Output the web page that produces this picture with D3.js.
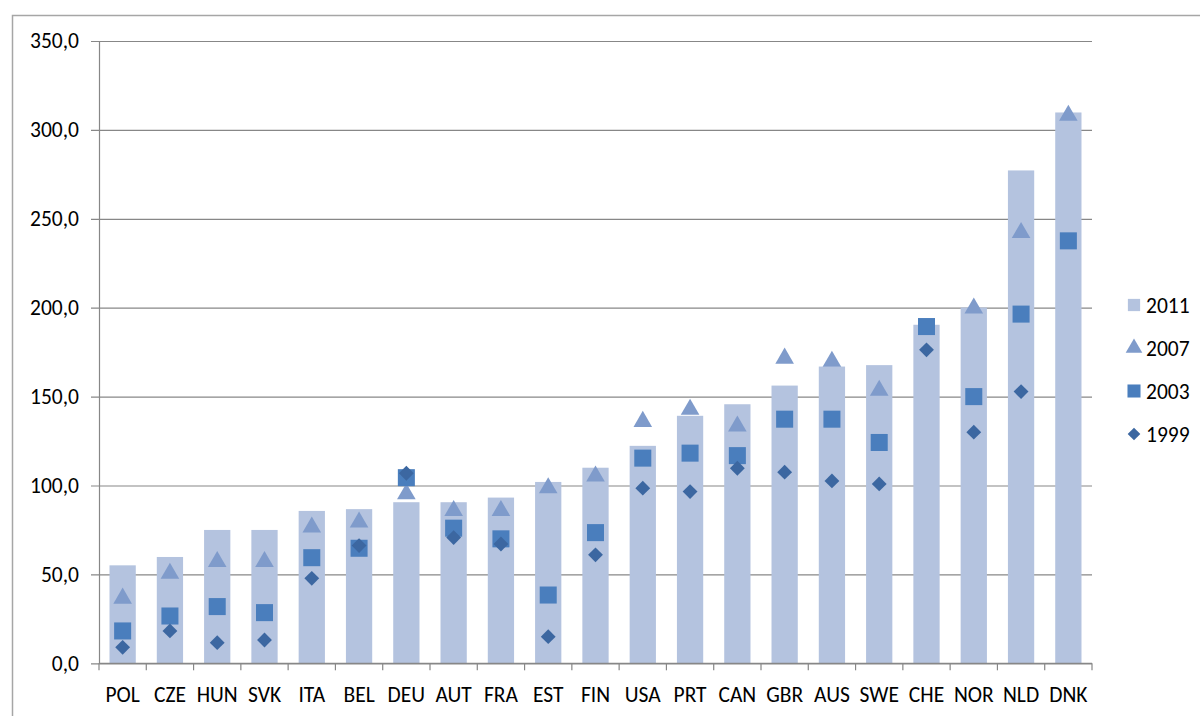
<!DOCTYPE html>
<html>
<head>
<meta charset="utf-8">
<script src="https://cdn.jsdelivr.net/npm/d3@7"></script>
<style>
  html, body { margin: 0; padding: 0; background: #fff; }
  svg { display: block; }
  text { font-family: Carlito, Lato, "Liberation Sans", sans-serif; fill: #000; }
</style>
</head>
<body>
<svg id="chart" width="1200" height="716"></svg>
<script>
// Countries, ordered by 2011 value
const countries = ["POL","CZE","HUN","SVK","ITA","BEL","DEU","AUT","FRA","EST","FIN",
                   "USA","PRT","CAN","GBR","AUS","SWE","CHE","NOR","NLD","DNK"];

// Series values (null = no observation)
const values2011 = [55.1, 59.8, 75.0, 75.0, 85.7, 86.7, 90.6, 90.6, 93.2, 102.0, 110.0,
                    122.3, 139.2, 145.7, 156.2, 166.9, 167.7, 190.4, 200.1, 277.2, 309.8];
const values2007 = [36.0, 50.0, 56.6, 56.6, 76.0, 78.8, 94.7, 85.3, 85.3, 98.1, 104.7,
                    135.4, 142.2, 132.8, 171.0, 169.2, 152.9, null, 199.2, 241.6, 307.6];
const values2003 = [18.2, 26.6, 31.9, 28.5, 59.4, 64.7, 104.4, 76.0, 70.0, 38.4, 73.5,
                    115.4, 118.2, 116.8, 137.3, 137.3, 124.2, 189.4, 150.0, 196.4, 237.6];
const values1999 = [9.0, 18.2, 11.6, 13.1, 47.8, 66.2, 106.9, 70.7, 67.1, 15.0, 61.0,
                    98.5, 96.6, 109.7, 107.5, 102.6, 100.9, 176.3, 130.0, 152.8, null];

// Axis ticks
const yTicks = [0, 50, 100, 150, 200, 250, 300, 350];

const svg = d3.select("#chart");

const plot = { left: 99, right: 1092, top: 41, bottom: 663.3 };
const FONT = "Carlito, Lato, 'Liberation Sans', sans-serif";
const FONT_SIZE = "21.5px";

const colors = {
  bar: "#b4c3df",
  tri: "#7f9bcb",
  sq: "#4a7ebd",
  dia: "#3c67a1",
  grid: "#878787"
};

// Square diamond (a square turned 45 degrees)
const rotatedSquare = {
  draw(context, size) {
    const r = Math.sqrt(size / 2);
    context.moveTo(0, -r);
    context.lineTo(r, 0);
    context.lineTo(0, r);
    context.lineTo(-r, 0);
    context.closePath();
  }
};

// Outer frame of the chart area
svg.append("rect")
  .attr("x", 12.5).attr("y", 15.5)
  .attr("width", 1300).attr("height", 800)
  .attr("fill", "none")
  .attr("stroke", "#a6a6a6")
  .attr("stroke-width", 1.5);

const x = d3.scaleBand()
  .domain(countries)
  .range([plot.left, plot.right])
  .paddingInner(0.8 / 1.8)
  .paddingOuter(0.4 / 1.8);

const y = d3.scaleLinear()
  .domain([0, 350])
  .range([plot.bottom, plot.top]);

const locale = d3.formatLocale({ decimal: ",", thousands: ".", grouping: [3], currency: ["", ""] });
const fmt = locale.format(".1f");

// Y axis with horizontal gridlines
const yAxis = svg.append("g")
  .attr("transform", `translate(${plot.left},0)`)
  .call(d3.axisLeft(y)
    .tickValues(yTicks)
    .tickFormat(fmt)
    .tickSizeInner(-(plot.right - plot.left))
    .tickSizeOuter(0)
    .tickPadding(12));
yAxis.select(".domain").attr("stroke", colors.grid).attr("stroke-width", 1.2);
yAxis.selectAll(".tick line")
  .attr("x1", -8)
  .attr("stroke", colors.grid)
  .attr("stroke-width", 1.2);
yAxis.selectAll(".tick text")
  .attr("x", -20)
  .style("font-size", FONT_SIZE)
  .style("font-family", FONT)
  .attr("fill", "#000");

// X axis: baseline, boundary ticks, country labels
const xAxis = svg.append("g")
  .attr("transform", `translate(0,${plot.bottom})`)
  .call(d3.axisBottom(x).tickSize(0).tickPadding(23));
xAxis.select(".domain").remove();
xAxis.selectAll(".tick text")
  .style("font-size", FONT_SIZE)
  .style("font-family", FONT)
  .attr("fill", "#000");

const step = x.step();
const boundaries = d3.range(countries.length + 1).map(i => plot.left + i * step);
xAxis.selectAll(".bnd")
  .data(boundaries)
  .join("line")
  .attr("class", "bnd")
  .attr("x1", d => d).attr("x2", d => d)
  .attr("y1", 0).attr("y2", 7)
  .attr("stroke", colors.grid)
  .attr("stroke-width", 1.2);

// 2011 bars
const cx = c => x(c) + x.bandwidth() / 2;
svg.append("g")
  .selectAll("rect")
  .data(countries.map((c, i) => ({ c, v: values2011[i] })))
  .join("rect")
  .attr("x", d => x(d.c))
  .attr("y", d => y(d.v))
  .attr("width", x.bandwidth())
  .attr("height", d => y(0) - y(d.v))
  .attr("fill", colors.bar);

// Baseline drawn on top of bars
svg.append("line")
  .attr("x1", plot.left).attr("x2", plot.right)
  .attr("y1", plot.bottom).attr("y2", plot.bottom)
  .attr("stroke", colors.grid)
  .attr("stroke-width", 1.2);

// Point series
const series = [
  { vals: values2007, shape: d3.symbolTriangle, size: 150, color: colors.tri, dy: -1 },
  { vals: values2003, shape: d3.symbolSquare, size: 290, color: colors.sq, dy: 0 },
  { vals: values1999, shape: rotatedSquare, size: 110, color: colors.dia, dy: 0 }
];

series.forEach(s => {
  svg.append("g")
    .selectAll("path")
    .data(countries.map((c, i) => ({ c, v: s.vals[i] })).filter(d => d.v != null))
    .join("path")
    .attr("transform", d => `translate(${cx(d.c)},${y(d.v) + s.dy})`)
    .attr("d", d3.symbol(s.shape, s.size))
    .attr("fill", s.color);
});

// Legend
const legendItems = [
  { label: "2011", shape: d3.symbolSquare, size: 150, color: colors.bar },
  { label: "2007", shape: d3.symbolTriangle, size: 120, color: colors.tri },
  { label: "2003", shape: d3.symbolSquare, size: 170, color: colors.sq },
  { label: "1999", shape: rotatedSquare, size: 80, color: colors.dia }
];
const legend = svg.append("g").attr("transform", "translate(1134,305)");
const li = legend.selectAll("g")
  .data(legendItems)
  .join("g")
  .attr("transform", (d, i) => `translate(0,${i * 43})`);
li.append("path")
  .attr("d", d => d3.symbol(d.shape, d.size)())
  .attr("fill", d => d.color);
li.append("text")
  .attr("x", 12)
  .attr("dy", "0.35em")
  .style("font-size", FONT_SIZE)
  .text(d => d.label);
</script>
</body>
</html>
